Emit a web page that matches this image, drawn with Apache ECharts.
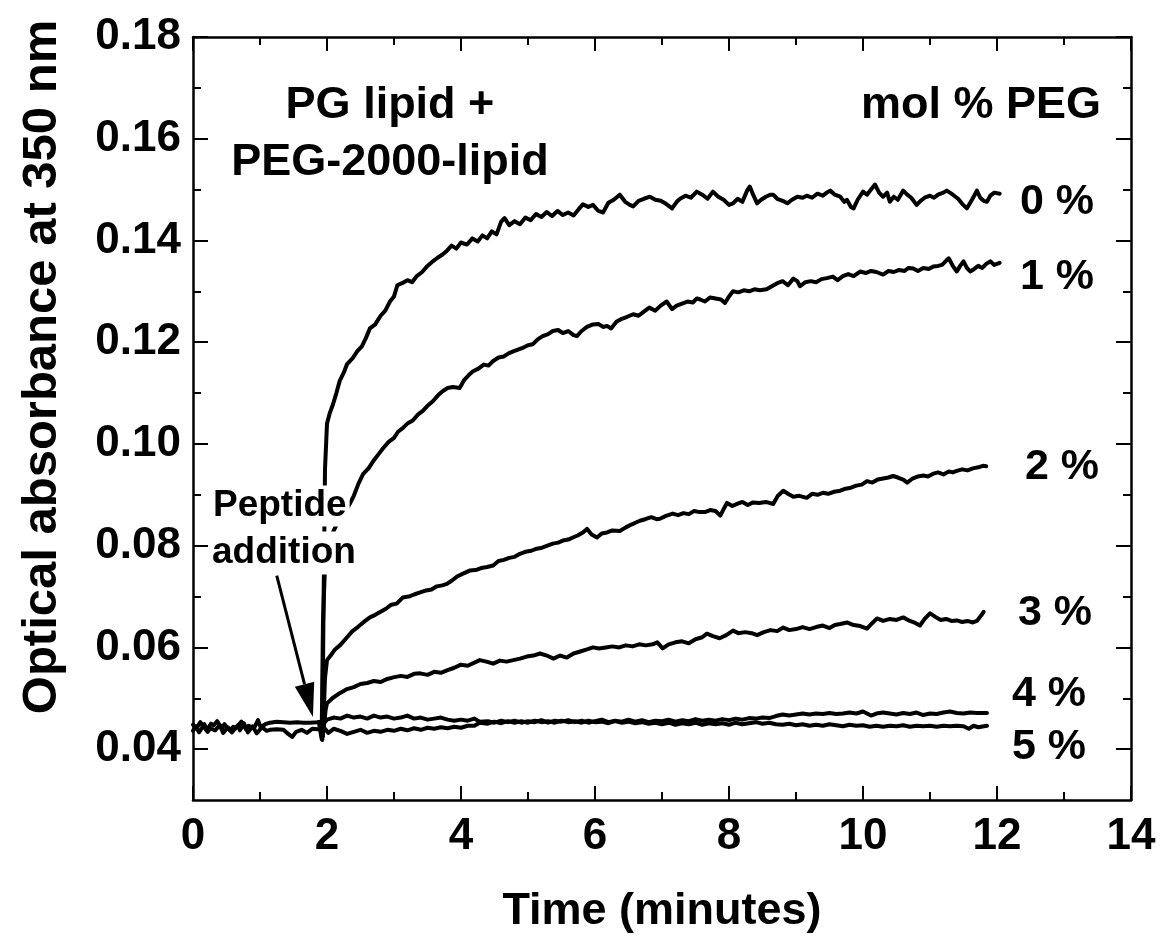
<!DOCTYPE html>
<html>
<head>
<meta charset="utf-8">
<script src="https://cdn.jsdelivr.net/npm/echarts@6/dist/echarts.min.js"></script>
<style>
html,body{margin:0;padding:0;background:#fff;}
#chart{width:1160px;height:939px;}
</style>
</head>
<body>
<div id="chart"></div>
<script>
// ---------- DATA ----------
const xTicks = [0, 2, 4, 6, 8, 10, 12, 14];
const yMajorTicks = [0.04, 0.06, 0.08, 0.10, 0.12, 0.14, 0.16, 0.18];
const yMinorTicks = [0.05, 0.07, 0.09, 0.11, 0.13, 0.15, 0.17];
const seriesNames = ["0 %", "1 %", "2 %", "3 %", "4 %", "5 %"];

const peg0 = [
[1.90,0.0452],[1.93,0.0418],[1.95,0.0700],[1.97,0.0950],[2.00,0.1040],[2.04,0.1060],[2.09,0.1078],[2.14,0.1100],
[2.19,0.1124],[2.25,0.1140],[2.30,0.1157],[2.38,0.1168],[2.45,0.1182],[2.52,0.1192],[2.58,0.1208],[2.64,0.1227],
[2.72,0.1235],[2.80,0.1252],[2.87,0.1262],[2.94,0.1280],[3.00,0.1290],[3.05,0.1312],[3.12,0.1316],[3.20,0.1322],
[3.27,0.1318],[3.34,0.1330],[3.42,0.1338],[3.50,0.1350],[3.58,0.1359],[3.65,0.1366],[3.72,0.1372],[3.79,0.1380],
[3.86,0.1390],[3.93,0.1384],[4.00,0.1396],[4.09,0.1392],[4.17,0.1404],[4.25,0.1398],[4.32,0.1410],[4.39,0.1404],
[4.46,0.1418],[4.53,0.1412],[4.60,0.1437],[4.65,0.1444],[4.72,0.1430],[4.80,0.1438],[4.88,0.1432],[4.96,0.1445],
[5.04,0.1440],[5.12,0.1452],[5.20,0.1446],[5.28,0.1456],[5.36,0.1448],[5.44,0.1458],[5.52,0.1450],[5.60,0.1455],
[5.68,0.1449],[5.76,0.1462],[5.82,0.1471],[5.90,0.1466],[5.97,0.1470],[6.05,0.1458],[6.12,0.1455],[6.20,0.1474],
[6.28,0.1480],[6.37,0.1490],[6.45,0.1476],[6.52,0.1470],[6.57,0.1467],[6.65,0.1478],[6.73,0.1482],[6.82,0.1486],
[6.90,0.1480],[6.98,0.1478],[7.06,0.1472],[7.15,0.1463],[7.22,0.1476],[7.27,0.1482],[7.35,0.1488],[7.43,0.1484],
[7.52,0.1496],[7.60,0.1490],[7.68,0.1482],[7.76,0.1496],[7.84,0.1486],[7.92,0.1480],[8.00,0.1470],[8.06,0.1473],
[8.13,0.1482],[8.20,0.1476],[8.27,0.1498],[8.31,0.1506],[8.36,0.1490],[8.42,0.1473],[8.48,0.1480],[8.55,0.1486],
[8.62,0.1490],[8.66,0.1490],[8.72,0.1482],[8.80,0.1478],[8.87,0.1473],[8.94,0.1480],[9.02,0.1486],[9.10,0.1484],
[9.16,0.1488],[9.24,0.1484],[9.32,0.1492],[9.40,0.1488],[9.46,0.1494],[9.51,0.1498],[9.58,0.1490],[9.66,0.1486],
[9.72,0.1476],[9.76,0.1480],[9.82,0.1466],[9.86,0.1463],[9.92,0.1480],[10.00,0.1496],[10.06,0.1490],[10.12,0.1500],
[10.18,0.1510],[10.24,0.1494],[10.30,0.1486],[10.36,0.1494],[10.40,0.1476],[10.46,0.1486],[10.52,0.1480],[10.60,0.1498],
[10.66,0.1490],[10.72,0.1484],[10.80,0.1470],[10.86,0.1478],[10.92,0.1484],[11.00,0.1488],[11.06,0.1484],[11.12,0.1490],
[11.20,0.1494],[11.25,0.1498],[11.32,0.1492],[11.38,0.1486],[11.42,0.1482],[11.48,0.1472],[11.55,0.1463],[11.60,0.1474],
[11.66,0.1488],[11.70,0.1498],[11.75,0.1484],[11.80,0.1478],[11.85,0.1476],[11.90,0.1488],[11.96,0.1494],[12.04,0.1492]
];

const peg1 = [
[1.88,0.0452],[1.92,0.0420],[1.94,0.0650],[1.97,0.0760],[2.00,0.0800],[2.06,0.0818],[2.12,0.0835],[2.18,0.0850],
[2.26,0.0866],[2.34,0.0882],[2.40,0.0898],[2.47,0.0922],[2.54,0.0941],[2.62,0.0952],[2.70,0.0968],[2.77,0.0980],
[2.84,0.0992],[2.92,0.1004],[3.00,0.1012],[3.06,0.1024],[3.13,0.1031],[3.20,0.1040],[3.28,0.1046],[3.36,0.1058],
[3.43,0.1065],[3.50,0.1075],[3.58,0.1084],[3.66,0.1096],[3.73,0.1104],[3.80,0.1110],[3.88,0.1112],[3.98,0.1110],
[4.05,0.1126],[4.12,0.1136],[4.18,0.1143],[4.26,0.1148],[4.34,0.1156],[4.41,0.1154],[4.48,0.1163],[4.56,0.1170],
[4.64,0.1172],[4.71,0.1178],[4.78,0.1182],[4.86,0.1186],[4.94,0.1190],[5.00,0.1194],[5.07,0.1196],[5.15,0.1206],
[5.22,0.1212],[5.30,0.1216],[5.37,0.1222],[5.45,0.1224],[5.52,0.1218],[5.60,0.1222],[5.68,0.1214],[5.73,0.1212],
[5.80,0.1222],[5.88,0.1230],[5.97,0.1235],[6.05,0.1236],[6.12,0.1230],[6.18,0.1232],[6.24,0.1227],[6.32,0.1240],
[6.40,0.1246],[6.48,0.1250],[6.57,0.1255],[6.65,0.1252],[6.73,0.1260],[6.81,0.1268],[6.90,0.1262],[6.98,0.1272],
[7.07,0.1280],[7.15,0.1265],[7.22,0.1272],[7.30,0.1276],[7.38,0.1280],[7.46,0.1278],[7.52,0.1286],[7.57,0.1284],
[7.64,0.1280],[7.72,0.1288],[7.80,0.1286],[7.88,0.1284],[7.94,0.1277],[8.00,0.1290],[8.06,0.1300],[8.14,0.1298],
[8.22,0.1302],[8.30,0.1300],[8.38,0.1304],[8.46,0.1302],[8.56,0.1304],[8.64,0.1310],[8.72,0.1316],[8.80,0.1320],
[8.88,0.1312],[8.96,0.1325],[9.02,0.1320],[9.06,0.1310],[9.14,0.1318],[9.22,0.1320],[9.30,0.1318],[9.38,0.1324],
[9.46,0.1326],[9.55,0.1329],[9.62,0.1322],[9.70,0.1330],[9.78,0.1334],[9.86,0.1330],[9.96,0.1339],[10.04,0.1336],
[10.12,0.1340],[10.20,0.1338],[10.30,0.1333],[10.38,0.1340],[10.46,0.1338],[10.54,0.1342],[10.62,0.1340],[10.68,0.1346],
[10.75,0.1345],[10.82,0.1340],[10.90,0.1346],[10.98,0.1344],[11.05,0.1349],[11.12,0.1350],[11.18,0.1352],[11.24,0.1360],
[11.28,0.1365],[11.34,0.1350],[11.40,0.1339],[11.45,0.1350],[11.50,0.1359],[11.55,0.1346],[11.60,0.1339],[11.66,0.1344],
[11.72,0.1350],[11.78,0.1346],[11.84,0.1354],[11.90,0.1359],[11.96,0.1352],[12.04,0.1356]
];

const peg2 = [
[1.90,0.0452],[1.94,0.0425],[1.97,0.0540],[2.00,0.0575],[2.06,0.0585],[2.12,0.0596],[2.20,0.0605],[2.30,0.0620],
[2.38,0.0632],[2.46,0.0640],[2.55,0.0650],[2.64,0.0659],[2.72,0.0664],[2.80,0.0670],[2.88,0.0676],[2.96,0.0684],
[3.04,0.0686],[3.13,0.0698],[3.22,0.0700],[3.30,0.0704],[3.39,0.0708],[3.48,0.0712],[3.56,0.0714],[3.64,0.0720],
[3.72,0.0722],[3.79,0.0725],[3.87,0.0732],[3.95,0.0740],[4.03,0.0745],[4.13,0.0751],[4.22,0.0752],[4.30,0.0756],
[4.39,0.0758],[4.48,0.0761],[4.56,0.0770],[4.64,0.0772],[4.72,0.0776],[4.80,0.0778],[4.88,0.0784],[4.96,0.0788],
[5.05,0.0790],[5.13,0.0794],[5.21,0.0796],[5.29,0.0800],[5.37,0.0804],[5.45,0.0806],[5.52,0.0810],[5.60,0.0812],
[5.67,0.0816],[5.74,0.0820],[5.82,0.0826],[5.88,0.0833],[5.95,0.0822],[6.03,0.0816],[6.10,0.0824],[6.18,0.0826],
[6.26,0.0830],[6.37,0.0829],[6.46,0.0836],[6.55,0.0842],[6.62,0.0846],[6.67,0.0849],[6.75,0.0852],[6.84,0.0856],
[6.92,0.0852],[6.97,0.0853],[7.05,0.0858],[7.16,0.0863],[7.24,0.0860],[7.32,0.0864],[7.40,0.0862],[7.48,0.0868],
[7.56,0.0866],[7.64,0.0866],[7.72,0.0870],[7.80,0.0868],[7.87,0.0859],[7.92,0.0872],[7.97,0.0884],[8.05,0.0878],
[8.12,0.0882],[8.20,0.0886],[8.28,0.0880],[8.36,0.0885],[8.45,0.0884],[8.55,0.0886],[8.66,0.0882],[8.73,0.0898],
[8.81,0.0908],[8.88,0.0902],[8.96,0.0896],[9.05,0.0898],[9.16,0.0894],[9.24,0.0902],[9.32,0.0900],[9.40,0.0904],
[9.48,0.0902],[9.57,0.0906],[9.66,0.0908],[9.74,0.0912],[9.82,0.0914],[9.90,0.0918],[9.98,0.0920],[10.06,0.0927],
[10.14,0.0924],[10.22,0.0930],[10.30,0.0932],[10.38,0.0934],[10.45,0.0937],[10.52,0.0934],[10.60,0.0930],[10.66,0.0924],
[10.74,0.0932],[10.82,0.0936],[10.90,0.0938],[10.97,0.0936],[11.04,0.0941],[11.12,0.0944],[11.20,0.0940],[11.28,0.0946],
[11.34,0.0944],[11.40,0.0947],[11.48,0.0950],[11.56,0.0948],[11.64,0.0952],[11.72,0.0954],[11.79,0.0957],[11.84,0.0956]
];

const peg3 = [
[1.90,0.0450],[1.95,0.0440],[1.98,0.0478],[2.00,0.0490],[2.08,0.0500],[2.19,0.0510],[2.30,0.0518],[2.40,0.0522],
[2.50,0.0528],[2.60,0.0530],[2.70,0.0534],[2.80,0.0532],[2.90,0.0538],[2.99,0.0541],[3.10,0.0544],[3.20,0.0542],
[3.30,0.0548],[3.39,0.0549],[3.50,0.0546],[3.60,0.0552],[3.70,0.0550],[3.79,0.0555],[3.90,0.0560],[4.00,0.0566],
[4.10,0.0564],[4.20,0.0570],[4.28,0.0575],[4.38,0.0572],[4.48,0.0568],[4.58,0.0574],[4.68,0.0572],[4.78,0.0575],
[4.88,0.0578],[4.98,0.0582],[5.08,0.0584],[5.18,0.0588],[5.28,0.0584],[5.38,0.0578],[5.48,0.0584],[5.58,0.0580],
[5.68,0.0588],[5.78,0.0592],[5.88,0.0596],[5.97,0.0600],[6.06,0.0598],[6.16,0.0600],[6.26,0.0602],[6.36,0.0600],
[6.46,0.0604],[6.56,0.0602],[6.66,0.0606],[6.76,0.0604],[6.86,0.0606],[6.93,0.0610],[7.01,0.0598],[7.10,0.0606],
[7.20,0.0610],[7.30,0.0612],[7.40,0.0608],[7.50,0.0616],[7.60,0.0620],[7.67,0.0627],[7.76,0.0622],[7.86,0.0618],
[7.96,0.0624],[8.06,0.0633],[8.14,0.0628],[8.24,0.0630],[8.34,0.0628],[8.42,0.0624],[8.52,0.0630],[8.62,0.0634],
[8.72,0.0632],[8.81,0.0639],[8.90,0.0634],[9.00,0.0636],[9.10,0.0640],[9.20,0.0636],[9.30,0.0640],[9.40,0.0643],
[9.50,0.0638],[9.58,0.0644],[9.66,0.0646],[9.76,0.0649],[9.86,0.0644],[9.96,0.0642],[10.06,0.0637],[10.14,0.0648],
[10.21,0.0657],[10.30,0.0652],[10.40,0.0656],[10.50,0.0654],[10.60,0.0659],[10.70,0.0652],[10.78,0.0648],[10.85,0.0643],
[10.92,0.0656],[11.00,0.0667],[11.08,0.0660],[11.16,0.0654],[11.24,0.0656],[11.32,0.0652],[11.40,0.0653],[11.48,0.0650],
[11.56,0.0652],[11.64,0.0649],[11.70,0.0652],[11.76,0.0662],[11.80,0.0670]
];

const peg4 = [
[0.00,0.0448],[0.05,0.0441],[0.11,0.0453],[0.15,0.0446],[0.20,0.0437],[0.27,0.0450],[0.31,0.0447],[0.36,0.0455],
[0.43,0.0441],[0.47,0.0449],[0.55,0.0437],[0.60,0.0444],[0.64,0.0441],[0.72,0.0454],[0.79,0.0439],[0.83,0.0446],
[0.91,0.0441],[0.97,0.0457],[1.01,0.0443],[1.08,0.0449],[1.15,0.0452],[1.25,0.0454],[1.35,0.0453],[1.45,0.0452],
[1.55,0.0453],[1.65,0.0452],[1.75,0.0452],[1.85,0.0453],[1.92,0.0454],[1.96,0.0452],[2.00,0.0458],[2.10,0.0462],
[2.20,0.0460],[2.30,0.0466],[2.40,0.0462],[2.50,0.0464],[2.60,0.0460],[2.70,0.0466],[2.80,0.0462],[2.90,0.0464],
[3.00,0.0460],[3.10,0.0462],[3.20,0.0466],[3.30,0.0460],[3.40,0.0462],[3.50,0.0458],[3.60,0.0460],[3.70,0.0462],
[3.80,0.0458],[3.90,0.0456],[4.00,0.0458],[4.10,0.0456],[4.20,0.0460],[4.28,0.0454],[4.40,0.0455],[4.50,0.0452],
[4.60,0.0456],[4.70,0.0453],[4.80,0.0456],[4.90,0.0452],[5.00,0.0455],[5.10,0.0453],[5.20,0.0457],[5.30,0.0452],
[5.40,0.0456],[5.50,0.0454],[5.60,0.0457],[5.70,0.0453],[5.80,0.0456],[5.90,0.0452],[6.00,0.0455],[6.10,0.0458],
[6.20,0.0453],[6.30,0.0456],[6.40,0.0454],[6.50,0.0458],[6.60,0.0454],[6.70,0.0457],[6.80,0.0453],[6.90,0.0456],
[7.00,0.0455],[7.10,0.0458],[7.20,0.0454],[7.30,0.0457],[7.40,0.0455],[7.50,0.0459],[7.60,0.0456],[7.70,0.0458],
[7.80,0.0456],[7.90,0.0459],[8.00,0.0457],[8.10,0.0460],[8.20,0.0458],[8.30,0.0461],[8.40,0.0460],[8.50,0.0462],
[8.60,0.0461],[8.70,0.0465],[8.80,0.0468],[8.90,0.0466],[9.00,0.0468],[9.10,0.0470],[9.20,0.0468],[9.30,0.0470],
[9.40,0.0469],[9.50,0.0471],[9.60,0.0469],[9.70,0.0470],[9.80,0.0472],[9.90,0.0470],[10.00,0.0474],[10.06,0.0470],
[10.12,0.0466],[10.20,0.0470],[10.30,0.0472],[10.40,0.0470],[10.50,0.0468],[10.60,0.0471],[10.70,0.0469],[10.80,0.0472],
[10.90,0.0467],[11.00,0.0470],[11.10,0.0469],[11.20,0.0472],[11.30,0.0474],[11.40,0.0471],[11.50,0.0470],[11.60,0.0472],
[11.70,0.0471],[11.85,0.0471]
];

const peg5 = [
[0.00,0.0436],[0.04,0.0445],[0.09,0.0433],[0.17,0.0449],[0.22,0.0434],[0.26,0.0441],[0.33,0.0437],[0.40,0.0447],
[0.45,0.0432],[0.52,0.0443],[0.58,0.0433],[0.67,0.0447],[0.70,0.0437],[0.76,0.0451],[0.82,0.0433],[0.89,0.0445],
[0.95,0.0431],[1.03,0.0443],[1.10,0.0436],[1.15,0.0438],[1.25,0.0439],[1.35,0.0438],[1.42,0.0430],[1.48,0.0424],
[1.54,0.0434],[1.62,0.0438],[1.70,0.0432],[1.78,0.0440],[1.86,0.0439],[1.93,0.0442],[1.97,0.0440],[2.02,0.0432],
[2.10,0.0440],[2.20,0.0436],[2.30,0.0430],[2.40,0.0434],[2.50,0.0438],[2.60,0.0432],[2.70,0.0436],[2.80,0.0434],
[2.90,0.0438],[3.00,0.0436],[3.10,0.0440],[3.20,0.0437],[3.30,0.0441],[3.40,0.0438],[3.50,0.0442],[3.60,0.0440],
[3.70,0.0443],[3.80,0.0441],[3.90,0.0444],[4.00,0.0442],[4.10,0.0446],[4.20,0.0446],[4.28,0.0452],[4.40,0.0450],
[4.50,0.0454],[4.60,0.0451],[4.70,0.0455],[4.80,0.0452],[4.90,0.0455],[5.00,0.0452],[5.10,0.0456],[5.20,0.0453],
[5.30,0.0455],[5.40,0.0452],[5.50,0.0456],[5.60,0.0453],[5.70,0.0455],[5.80,0.0452],[5.90,0.0456],[6.00,0.0453],
[6.10,0.0454],[6.20,0.0451],[6.30,0.0455],[6.40,0.0452],[6.50,0.0454],[6.60,0.0451],[6.70,0.0453],[6.80,0.0450],
[6.90,0.0452],[7.00,0.0449],[7.10,0.0452],[7.20,0.0448],[7.30,0.0451],[7.40,0.0449],[7.50,0.0452],[7.60,0.0448],
[7.70,0.0451],[7.80,0.0449],[7.90,0.0451],[8.00,0.0448],[8.10,0.0452],[8.20,0.0449],[8.30,0.0451],[8.40,0.0453],
[8.50,0.0450],[8.60,0.0452],[8.70,0.0449],[8.80,0.0448],[8.90,0.0450],[9.00,0.0447],[9.10,0.0449],[9.20,0.0446],
[9.30,0.0448],[9.40,0.0446],[9.50,0.0449],[9.60,0.0447],[9.70,0.0445],[9.80,0.0448],[9.90,0.0446],[10.00,0.0447],
[10.10,0.0444],[10.20,0.0446],[10.30,0.0444],[10.40,0.0446],[10.50,0.0445],[10.60,0.0447],[10.70,0.0444],[10.80,0.0446],
[10.90,0.0445],[11.00,0.0446],[11.10,0.0444],[11.20,0.0446],[11.30,0.0445],[11.40,0.0446],[11.50,0.0445],[11.58,0.0440],
[11.65,0.0446],[11.72,0.0443],[11.85,0.0446]
];

// ---------- CHART ----------
const FONT = "'Liberation Sans', Arial, Helvetica, sans-serif";
const chart = echarts.init(document.getElementById('chart'), null, {renderer: 'canvas'});
const lineColor = '#000';
const axisLW = 2.5;

function yAxisCfg(pos, ticks, len, labels, line) {
  return {
    type: 'value', position: pos, min: 0.03, max: 0.18,
    axisLine: {show: line, onZero: false, lineStyle: {color: lineColor, width: axisLW}},
    axisTick: {show: true, inside: true, length: len, customValues: ticks, lineStyle: {color: lineColor, width: 2}},
    axisLabel: labels ? {show: true, customValues: yMajorTicks, margin: 12,
      formatter: v => v.toFixed(2), color: '#000', fontFamily: FONT, fontWeight: 'bold', fontSize: 44} : {show: false},
    splitLine: {show: false}
  };
}
function xAxisCfg(pos, labels) {
  return {
    type: 'value', position: pos, min: 0, max: 14, interval: 2,
    axisLine: {show: true, onZero: false, lineStyle: {color: lineColor, width: axisLW}},
    axisTick: {show: true, inside: true, length: 14, lineStyle: {color: lineColor, width: 2}},
    minorTick: {show: true, splitNumber: 2, length: 8, lineStyle: {color: lineColor, width: 2}},
    axisLabel: labels ? {show: true, margin: 15, color: '#000', fontFamily: FONT, fontWeight: 'bold', fontSize: 44,
      formatter: v => String(v)} : {show: false},
    splitLine: {show: false},
    name: labels ? 'Time (minutes)' : '',
    nameLocation: 'middle', nameGap: 89,
    nameTextStyle: {color: '#000', fontFamily: FONT, fontWeight: 'bold', fontSize: 45}
  };
}

const curves = [peg0, peg1, peg2, peg3, peg4, peg5];
const series = curves.map((d, i) => ({
  name: seriesNames[i], type: 'line', data: d, xAxisIndex: 0, yAxisIndex: 0,
  showSymbol: false, symbol: 'none', smooth: false, clip: true,
  lineStyle: {color: '#000', width: 4, join: 'round', cap: 'round'}, z: 2
}));

const txt = (text, x, y, opt) => Object.assign({
  type: 'text', x: x, y: y, z: 100,
  style: Object.assign({text: text, fill: '#000', font: "bold 45px " + FONT, textAlign: 'left', textVerticalAlign: 'middle'}, opt || {})
});

chart.setOption({
  animation: false,
  backgroundColor: '#fff',
  grid: {left: 193, right: 29, top: 37, bottom: 139, containLabel: false},
  xAxis: [xAxisCfg('bottom', true), xAxisCfg('top', false)],
  yAxis: [
    yAxisCfg('left', yMajorTicks, 15, true, true),
    yAxisCfg('left', yMinorTicks, 8, false, false),
    yAxisCfg('right', yMajorTicks, 15, false, true),
    yAxisCfg('right', yMinorTicks, 8, false, false)
  ],
  series: series
});

// annotations
const P = (t, v) => chart.convertToPixel({xAxisIndex: 0, yAxisIndex: 0}, [t, v]);
const a0 = P(1.25, 0.0741), a1 = P(1.79, 0.0463);
const dx = a1[0] - a0[0], dy = a1[1] - a0[1], L = Math.hypot(dx, dy);
const ux = dx / L, uy = dy / L, hl = 34, hw = 10;
const bx = a1[0] - ux * hl, by = a1[1] - uy * hl;

chart.setOption({
  graphic: [
    txt('PG lipid +', 390, 106, {textAlign: 'center'}),
    txt('PEG-2000-lipid', 390, 163, {textAlign: 'center'}),
    txt('mol % PEG', 1101, 106, {textAlign: 'right'}),
    txt(seriesNames[0], 1020, 202, {font: "bold 43px " + FONT}),
    txt(seriesNames[1], 1020, 277, {font: "bold 43px " + FONT}),
    txt(seriesNames[2], 1025, 467, {font: "bold 43px " + FONT}),
    txt(seriesNames[3], 1018, 613, {font: "bold 43px " + FONT}),
    txt(seriesNames[4], 1012, 694, {font: "bold 43px " + FONT}),
    txt(seriesNames[5], 1012, 747, {font: "bold 43px " + FONT}),
    txt('Peptide', 211, 506, {font: "bold 37px " + FONT, backgroundColor: '#fff', padding: [2, 3, 2, 2]}),
    txt('addition', 210, 553, {font: "bold 37px " + FONT, backgroundColor: '#fff', padding: [2, 3, 4, 2]}),
    {type: 'line', z: 100, shape: {x1: a0[0], y1: a0[1], x2: bx, y2: by}, style: {stroke: '#000', lineWidth: 3}},
    {type: 'polygon', z: 100, shape: {points: [[a1[0], a1[1]], [bx - uy * hw, by + ux * hw], [bx + uy * hw, by - ux * hw]]},
      style: {fill: '#000'}},
    {type: 'text', z: 100, x: 42, y: 367, rotation: Math.PI / 2,
      style: {text: 'Optical absorbance at 350 nm', fill: '#000', font: "bold 49px " + FONT, textAlign: 'center', textVerticalAlign: 'middle'}}
  ]
});
</script>
</body>
</html>
